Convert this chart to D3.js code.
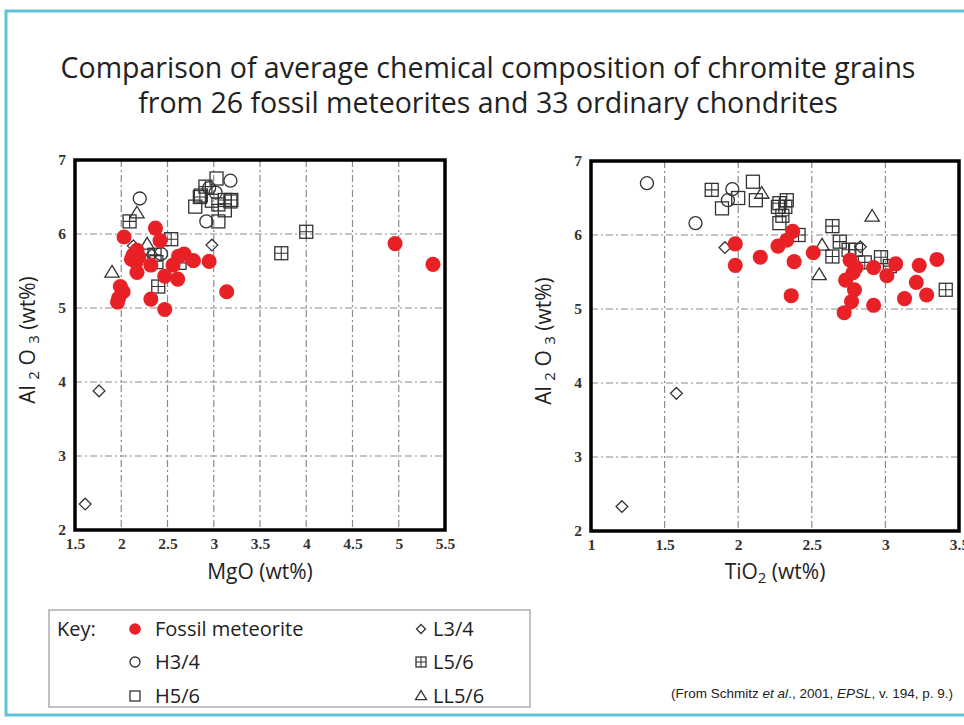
<!DOCTYPE html>
<html>
<head>
<meta charset="utf-8">
<script src="https://cdn.jsdelivr.net/npm/d3@7"></script>
<style>
  body { margin: 0; background: #fff; }
  svg { display: block; }
  .tick text { font-family: "Liberation Serif", "DejaVu Serif", serif; font-weight: bold; font-size: 15.5px; fill: #333; }
</style>
</head>
<body>
<div id="chart"></div>
<script>

// x/y ticks
const mgoTicks = [1.5, 2, 2.5, 3, 3.5, 4, 4.5, 5, 5.5];
const tioTicks = [1, 1.5, 2, 2.5, 3, 3.5];
const alTicks = [2, 3, 4, 5, 6, 7];

// left panel: MgO vs Al2O3
const mgoFossil = [
    [2.37, 6.08], [2.03, 5.96], [2.42, 5.91], [2.17, 5.78], [2.13, 5.72], [2.11, 5.66],
    [2.19, 5.69], [2.32, 5.58], [2.68, 5.73], [2.62, 5.70], [2.78, 5.64], [2.95, 5.63],
    [2.56, 5.58], [2.17, 5.48], [2.47, 5.43], [2.61, 5.39], [1.99, 5.29], [2.02, 5.22],
    [1.97, 5.13], [1.96, 5.08], [2.32, 5.12], [3.14, 5.22], [2.47, 4.98], [4.96, 5.87],
    [5.37, 5.59], [2.16, 5.62]
];
const mgoH34 = [[2.20, 6.48], [3.18, 6.72], [2.92, 6.17], [2.95, 6.62], [3.02, 6.56], [2.43, 5.73]];
const mgoH56 = [
    [3.03, 6.75], [2.80, 6.37], [3.12, 6.32], [3.05, 6.17], [3.18, 6.44], [2.86, 6.52],
    [2.38, 5.62], [2.98, 6.45]
];
const mgoL34 = [[2.98, 5.85], [1.61, 2.35], [1.76, 3.88], [2.13, 5.84], [2.33, 5.72]];
const mgoL56 = [
    [2.09, 6.17], [2.54, 5.93], [2.36, 5.72], [2.63, 5.61], [2.40, 5.29], [2.91, 6.64],
    [2.85, 6.50], [3.12, 6.46], [3.19, 6.46], [3.73, 5.74], [4.00, 6.03], [3.05, 6.40]
];
const mgoLL56 = [[2.17, 6.28], [1.90, 5.48], [2.28, 5.86]];

// right panel: TiO2 vs Al2O3
const tioFossil = [
    [1.98, 5.88], [1.98, 5.59], [2.15, 5.70], [2.27, 5.85], [2.37, 6.05], [2.33, 5.93],
    [2.38, 5.64], [2.36, 5.18], [2.51, 5.76], [2.76, 5.66], [2.80, 5.56], [2.92, 5.56],
    [3.01, 5.45], [3.07, 5.61], [3.23, 5.59], [3.35, 5.67], [3.21, 5.36], [3.28, 5.19],
    [3.13, 5.14], [2.73, 5.39], [2.79, 5.26], [2.77, 5.10], [2.72, 4.95], [2.92, 5.05],
    [2.78, 5.49]
];
const tioH34 = [[1.38, 6.70], [1.71, 6.16], [1.96, 6.62], [1.93, 6.47]];
const tioH56 = [[2.00, 6.50], [1.89, 6.36], [2.10, 6.72], [2.12, 6.47], [2.27, 6.38], [2.28, 6.16]];
const tioL34 = [[1.91, 5.83], [2.83, 5.84], [1.21, 2.33], [1.58, 3.86]];
const tioL56 = [
    [1.82, 6.61], [2.28, 6.43], [2.33, 6.47], [2.32, 6.38], [2.41, 6.00], [2.64, 6.12],
    [2.69, 5.91], [2.64, 5.71], [2.75, 5.80], [2.80, 5.80], [2.86, 5.63], [2.97, 5.70],
    [3.03, 5.58], [3.41, 5.26], [2.30, 6.26]
];
const tioLL56 = [[2.16, 6.56], [2.91, 6.25], [2.57, 5.86], [2.55, 5.46]];

const width = 964;
const height = 725;
const red = "#e82127";
const ink = "#333";

const svg = d3.select("#chart")
    .append("svg")
    .attr("width", width)
    .attr("height", height);

// outer frame
svg.append("rect")
    .attr("x", 6).attr("y", 11)
    .attr("width", 964).attr("height", 704)
    .attr("fill", "none")
    .attr("stroke", "#5ec4d8")
    .attr("stroke-width", 3);

// title
const title = svg.append("text")
    .attr("text-anchor", "middle")
    .attr("font-family", "Open Sans, sans-serif")
    .attr("font-size", 28.5)
    .attr("fill", "#222");
title.append("tspan").attr("x", 488).attr("y", 78)
    .text("Comparison of average chemical composition of chromite grains");
title.append("tspan").attr("x", 488).attr("y", 113)
    .text("from 26 fossil meteorites and 33 ordinary chondrites");

// marker shapes
function marker(g, type, x, y, s) {
    if (type === "fossil") {
        g.append("circle").attr("cx", x).attr("cy", y).attr("r", s * 0.58).attr("fill", red);
    } else if (type === "H34") {
        g.append("circle").attr("cx", x).attr("cy", y).attr("r", s * 0.5)
            .attr("fill", "none").attr("stroke", ink).attr("stroke-width", 1.3);
    } else if (type === "H56" || type === "L56") {
        g.append("rect").attr("x", x - s / 2).attr("y", y - s / 2)
            .attr("width", s).attr("height", s)
            .attr("fill", "none").attr("stroke", ink).attr("stroke-width", 1.3);
        if (type === "L56") {
            const p = d3.path();
            p.moveTo(x - s / 2, y); p.lineTo(x + s / 2, y);
            p.moveTo(x, y - s / 2); p.lineTo(x, y + s / 2);
            g.append("path").attr("d", p.toString())
                .attr("stroke", ink).attr("stroke-width", 1.1);
        }
    } else if (type === "L34") {
        const r = s * 0.45;
        g.append("path")
            .attr("d", "M" + x + "," + (y - r) + "L" + (x + r) + "," + y + "L" + x + "," + (y + r) + "L" + (x - r) + "," + y + "Z")
            .attr("fill", "none").attr("stroke", ink).attr("stroke-width", 1.3);
    } else if (type === "LL56") {
        const h = s * 0.9;
        g.append("path")
            .attr("d", "M" + x + "," + (y - h * 0.6) + "L" + (x + s * 0.55) + "," + (y + h * 0.4) + "L" + (x - s * 0.55) + "," + (y + h * 0.4) + "Z")
            .attr("fill", "none").attr("stroke", ink).attr("stroke-width", 1.3);
    }
}

function panel(cfg) {
    const x = d3.scaleLinear().domain(cfg.xDomain).range([cfg.left, cfg.right]);
    const y = d3.scaleLinear().domain([2, 7]).range([cfg.bottom, cfg.top]);
    const g = svg.append("g");

    // grid
    g.selectAll(".gx")
        .data(cfg.xTicks.slice(1, -1))
        .enter()
        .append("line")
        .attr("x1", function(d) { return x(d); })
        .attr("x2", function(d) { return x(d); })
        .attr("y1", cfg.top).attr("y2", cfg.bottom)
        .attr("stroke", "#8a8a8a").attr("stroke-width", 1.2)
        .attr("stroke-dasharray", "7,3,2,3");

    g.selectAll(".gy")
        .data(alTicks.slice(1, -1))
        .enter()
        .append("line")
        .attr("y1", function(d) { return y(d); })
        .attr("y2", function(d) { return y(d); })
        .attr("x1", cfg.left).attr("x2", cfg.right)
        .attr("stroke", "#8a8a8a").attr("stroke-width", 1.2)
        .attr("stroke-dasharray", "7,3,2,3");

    // axes (labels only)
    const xAxis = g.append("g")
        .attr("transform", "translate(0," + cfg.bottom + ")")
        .call(d3.axisBottom(x).tickValues(cfg.xTicks).tickSize(0).tickPadding(8).tickFormat(d3.format("")));
    xAxis.select(".domain").remove();

    const yAxis = g.append("g")
        .attr("transform", "translate(" + cfg.left + ",0)")
        .call(d3.axisLeft(y).tickValues(alTicks).tickSize(0).tickPadding(9).tickFormat(d3.format("d")));
    yAxis.select(".domain").remove();

    // points
    const pts = g.append("g");
    cfg.series.forEach(function(s) {
        s.data.forEach(function(d) {
            marker(pts, s.type, x(d[0]), y(d[1]), 13);
        });
    });

    // frame
    g.append("rect")
        .attr("x", cfg.left).attr("y", cfg.top)
        .attr("width", cfg.right - cfg.left).attr("height", cfg.bottom - cfg.top)
        .attr("fill", "none").attr("stroke", "#000").attr("stroke-width", 3.5);

    // x title
    const xt = g.append("text")
        .attr("x", (cfg.left + cfg.right) / 2)
        .attr("y", 579)
        .attr("text-anchor", "middle")
        .attr("font-family", "Open Sans, sans-serif")
        .attr("font-size", 21)
        .attr("fill", "#222");
    xt.append("tspan").text(cfg.xName);
    if (cfg.xSub) {
        xt.append("tspan").attr("baseline-shift", "-25%").attr("font-size", 15).text(cfg.xSub);
    }
    xt.append("tspan").text(" (wt%)");

    // y title
    const yt = g.append("text")
        .attr("transform", "translate(" + (cfg.left - 40) + "," + ((cfg.top + cfg.bottom) / 2 - 5) + ") rotate(-90)")
        .attr("text-anchor", "middle")
        .attr("font-family", "Open Sans, sans-serif")
        .attr("font-size", 21)
        .attr("fill", "#222");
    yt.append("tspan").text("Al ");
    yt.append("tspan").attr("baseline-shift", "-25%").attr("font-size", 15).text("2");
    yt.append("tspan").text(" O ");
    yt.append("tspan").attr("baseline-shift", "-25%").attr("font-size", 15).text("3");
    yt.append("tspan").text("  (wt%)");
}

panel({
    left: 75, right: 445, top: 160, bottom: 530,
    xDomain: [1.5, 5.5], xTicks: mgoTicks,
    xName: "MgO", xSub: null,
    series: [
        { type: "H34", data: mgoH34 },
        { type: "H56", data: mgoH56 },
        { type: "L34", data: mgoL34 },
        { type: "L56", data: mgoL56 },
        { type: "LL56", data: mgoLL56 },
        { type: "fossil", data: mgoFossil }
    ]
});

panel({
    left: 591, right: 959, top: 161, bottom: 531,
    xDomain: [1, 3.5], xTicks: tioTicks,
    xName: "TiO", xSub: "2",
    series: [
        { type: "H34", data: tioH34 },
        { type: "H56", data: tioH56 },
        { type: "L34", data: tioL34 },
        { type: "L56", data: tioL56 },
        { type: "LL56", data: tioLL56 },
        { type: "fossil", data: tioFossil }
    ]
});

// legend
const legend = svg.append("g");
legend.append("rect")
    .attr("x", 49).attr("y", 610)
    .attr("width", 481).attr("height", 97)
    .attr("fill", "none").attr("stroke", "#999").attr("stroke-width", 1.2);

legend.append("text")
    .attr("x", 57).attr("y", 636)
    .attr("font-family", "Open Sans, sans-serif").attr("font-size", 20).attr("fill", "#222")
    .text("Key:");

const legendItems = [
    { type: "fossil", label: "Fossil meteorite", col: 0, row: 0 },
    { type: "H34", label: "H3/4", col: 0, row: 1 },
    { type: "H56", label: "H5/6", col: 0, row: 2 },
    { type: "L34", label: "L3/4", col: 1, row: 0 },
    { type: "L56", label: "L5/6", col: 1, row: 1 },
    { type: "LL56", label: "LL5/6", col: 1, row: 2 }
];
const colX = [135, 421];
const rowY = [629, 662, 696];

legendItems.forEach(function(d) {
    marker(legend, d.type, colX[d.col], rowY[d.row], 10);
    legend.append("text")
        .attr("x", colX[d.col] + (d.col === 0 ? 20 : 12))
        .attr("y", rowY[d.row] + 7)
        .attr("font-family", "Open Sans, sans-serif").attr("font-size", 20).attr("fill", "#222")
        .text(d.label);
});

// source
const src = svg.append("text")
    .attr("x", 953).attr("y", 698)
    .attr("text-anchor", "end")
    .attr("font-family", "Liberation Sans, Arial, sans-serif")
    .attr("font-size", 13.5).attr("fill", "#222");
src.append("tspan").text("(From Schmitz ");
src.append("tspan").attr("font-style", "italic").text("et al");
src.append("tspan").text("., 2001, ");
src.append("tspan").attr("font-style", "italic").text("EPSL");
src.append("tspan").text(", v. 194, p. 9.)");

</script>
</body>
</html>
